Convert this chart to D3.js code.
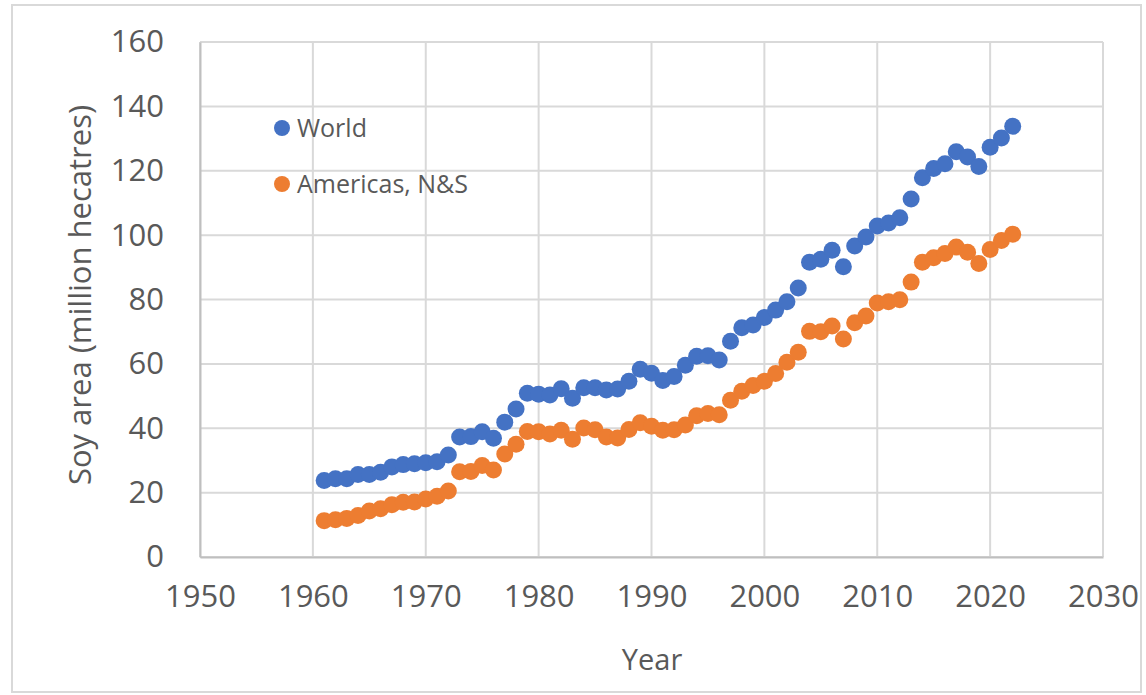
<!DOCTYPE html>
<html>
<head>
<meta charset="utf-8">
<script src="https://cdnjs.cloudflare.com/ajax/libs/d3/7.8.5/d3.min.js"></script>
<style>
  body { margin: 0; background: #fff; }
  text { font-family: "Open Sans", sans-serif; fill: #595959; }
</style>
</head>
<body>
<div id="chart"></div>
<script>
// soy area harvested, million hectares
const years = d3.range(1961, 2023);
const world = [23.8, 24.3, 24.3, 25.6, 25.6, 26.3, 28.0, 28.7, 29.0, 29.3, 29.6, 31.7,
  37.3, 37.4, 38.9, 36.9, 41.9, 46.0, 50.9, 50.6, 50.3, 52.3, 49.3, 52.6, 52.6, 51.9,
  52.2, 54.6, 58.3, 57.1, 54.8, 56.1, 59.6, 62.4, 62.5, 61.2, 67.0, 71.2, 72.1, 74.4,
  76.7, 79.3, 83.6, 91.6, 92.5, 95.3, 90.2, 96.6, 99.4, 102.8, 103.8, 105.4, 111.2,
  117.8, 120.7, 122.2, 125.9, 124.3, 121.3, 127.3, 130.2, 133.8];
const americas = [11.3, 11.6, 12.0, 12.9, 14.3, 15.0, 16.2, 17.0, 17.1, 18.0, 18.9, 20.5,
  26.5, 26.6, 28.4, 27.0, 32.0, 35.0, 39.0, 38.9, 38.2, 39.4, 36.6, 40.1, 39.5, 37.3,
  37.0, 39.6, 41.7, 40.6, 39.4, 39.5, 41.0, 43.9, 44.6, 44.2, 48.7, 51.5, 53.3, 54.6,
  57.0, 60.5, 63.6, 70.1, 70.0, 71.8, 67.7, 72.8, 74.9, 78.9, 79.3, 79.9, 85.4, 91.6,
  93.0, 94.3, 96.3, 94.7, 91.2, 95.5, 98.3, 100.3];
const xTicks = [1950, 1960, 1970, 1980, 1990, 2000, 2010, 2020, 2030];
const yTicks = [0, 20, 40, 60, 80, 100, 120, 140, 160];
const seriesNames = ["World", "Americas, N&S"];
const colors = ["#4472C4", "#ED7D31"];

const W = 1146, H = 695;
const margin = {top: 42, right: 43, bottom: 138, left: 200};
const width = W - margin.left - margin.right,
      height = H - margin.top - margin.bottom;

const svg = d3.select("#chart").append("svg")
  .attr("width", W).attr("height", H);

// outer frame
svg.append("rect")
  .attr("x", 12).attr("y", 5).attr("width", W - 17).attr("height", H - 8)
  .attr("fill", "none").attr("stroke", "#d9d9d9").attr("stroke-width", 2);

const g = svg.append("g").attr("transform", `translate(${margin.left},${margin.top})`);

const x = d3.scaleLinear().domain([1950, 2030]).range([0, width]);
const y = d3.scaleLinear().domain([0, 160]).range([height, 0]);

// gridlines
g.append("g").selectAll("line").data(yTicks).join("line")
  .attr("x1", 0).attr("x2", width)
  .attr("y1", d => y(d)).attr("y2", d => y(d))
  .attr("stroke", "#d9d9d9").attr("stroke-width", 2);
g.append("g").selectAll("line").data(xTicks).join("line")
  .attr("x1", d => x(d)).attr("x2", d => x(d))
  .attr("y1", 0).attr("y2", height)
  .attr("stroke", "#d9d9d9").attr("stroke-width", 2);

// axes
const xAxis = g.append("g").attr("transform", `translate(0,${height})`)
  .call(d3.axisBottom(x).tickValues(xTicks).tickFormat(d3.format("d")).tickSize(0).tickPadding(28));
const yAxis = g.append("g")
  .call(d3.axisLeft(y).tickValues(yTicks).tickSize(0).tickPadding(36));
[xAxis, yAxis].forEach(a => {
  a.select(".domain").attr("stroke", "#bfbfbf").attr("stroke-width", 2);
  a.selectAll("text").attr("font-size", 31).attr("fill", "#595959")
    .attr("font-family", "'Open Sans', sans-serif");
});

// axis titles
svg.append("text").attr("x", 652).attr("y", 670).attr("text-anchor", "middle")
  .attr("font-size", 29).text("Year");
svg.append("text").attr("transform", "translate(91,295) rotate(-90)")
  .attr("text-anchor", "middle").attr("font-size", 31)
  .text("Soy area (million hecatres)");

// points
[world, americas].forEach((vals, i) => {
  g.append("g").selectAll("circle").data(vals).join("circle")
    .attr("cx", (d, j) => x(years[j]))
    .attr("cy", d => y(d))
    .attr("r", 8.5)
    .attr("fill", colors[i]);
});

// legend
const leg = svg.append("g");
seriesNames.forEach((name, i) => {
  const ly = 128 + i * 56;
  leg.append("circle").attr("cx", 282).attr("cy", ly).attr("r", 8).attr("fill", colors[i]);
  leg.append("text").attr("x", 297).attr("y", ly).attr("dy", "0.35em")
    .attr("font-size", 25).text(name);
});
</script>
</body>
</html>
